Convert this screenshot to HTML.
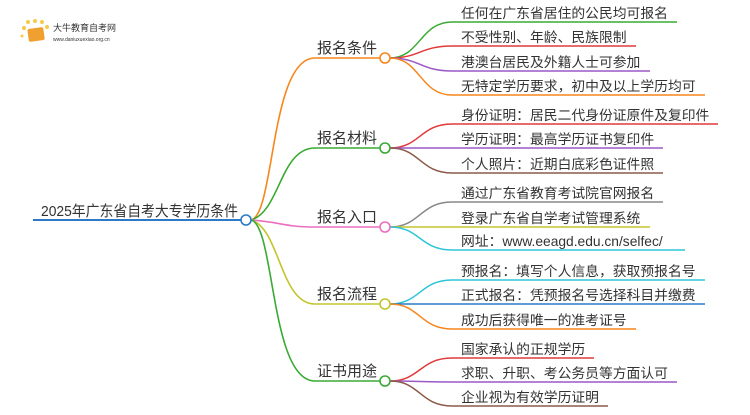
<!DOCTYPE html>
<html><head><meta charset="utf-8"><style>
body{margin:0;background:#fff;}
svg text{font-family:"Liberation Sans","Noto Sans CJK SC",sans-serif;fill:#333;}
</style></head><body>
<svg width="750" height="410" viewBox="0 0 750 410" xmlns="http://www.w3.org/2000/svg">
<g>
<circle cx="24" cy="28" r="2" fill="#f7c948"/><circle cx="28" cy="22" r="2" fill="#f7c948"/><circle cx="35" cy="21" r="2" fill="#f7c948"/><circle cx="42" cy="22" r="2" fill="#f7c948"/><circle cx="47" cy="27" r="2" fill="#f7c948"/><circle cx="22" cy="36" r="1.5" fill="#f7c948"/>
<rect x="28" y="28" width="16" height="13" rx="2" fill="#f0a030" transform="rotate(-8 36 34)"/>
<text x="53" y="31" font-size="9" fill="#333">大牛教育自考网</text>
<text x="53" y="41" font-size="5" fill="#777">www.daniuxuexiao.org.cn</text>
</g>
<line x1="33" y1="220" x2="241" y2="220" stroke="#2a7bc4" stroke-width="2"/>
<text x="41" y="216" font-size="15" textLength="197" lengthAdjust="spacingAndGlyphs">2025年广东省自考大专学历条件</text>
<g fill="none" stroke-width="1.6">
<path d="M251,220 C275,215 270,58 315,58 L380,58" stroke="#f7861c"/>
<path d="M251,220 C280,212 280,148 315,148 L380,148" stroke="#3aaa35"/>
<path d="M251,220 C280,222 285,227 315,227 L380,227" stroke="#ec6fbf"/>
<path d="M251,220 C280,228 280,304 315,304 L380,304" stroke="#c3c52e"/>
<path d="M251,220 C275,225 270,381 315,381 L380,381" stroke="#3aaa35"/>
</g>
<circle cx="246" cy="220" r="5" fill="#fff" stroke="#2a7bc4" stroke-width="1.6"/>
<g font-size="15">
<text x="377" y="53" text-anchor="end">报名条件</text>
<text x="377" y="143" text-anchor="end">报名材料</text>
<text x="377" y="222" text-anchor="end">报名入口</text>
<text x="377" y="299" text-anchor="end">报名流程</text>
<text x="377" y="376" text-anchor="end">证书用途</text>
</g>
<g fill="none" stroke-width="1.5">
<path d="M390,58 C420,58 420,22 452,22 L677,22" stroke="#3aaa35"/>
<path d="M390,58 C420,58 420,46 452,46 L636,46" stroke="#e03a3a"/>
<path d="M390,58 C420,58 420,71 452,71 L650,71" stroke="#9b59c6"/>
<path d="M390,58 C420,58 420,95 452,95 L705,95" stroke="#f7861c"/>
<path d="M390,148 C420,148 420,124 452,124 L718,124" stroke="#e03a3a"/>
<path d="M390,148 C420,148 420,148 452,148 L663,148" stroke="#9b59c6"/>
<path d="M390,148 C420,148 420,173 452,173 L663,173" stroke="#8b5a4a"/>
<path d="M390,227 C420,227 420,202 452,202 L663,202" stroke="#888"/>
<path d="M390,227 C420,227 420,227 452,227 L650,227" stroke="#c3c52e"/>
<path d="M390,227 C420,227 420,250 452,250 L685,250" stroke="#2ec5d8"/>
<path d="M390,304 C420,304 420,280 452,280 L705,280" stroke="#2ec5d8"/>
<path d="M390,304 C420,304 420,304 452,304 L705,304" stroke="#2a7bc4"/>
<path d="M390,304 C420,304 420,329 452,329 L636,329" stroke="#f7861c"/>
<path d="M390,381 C420,381 420,358 452,358 L594,358" stroke="#e03a3a"/>
<path d="M390,381 C420,381 420,382 452,382 L677,382" stroke="#9b59c6"/>
<path d="M390,381 C420,381 420,406 452,406 L608,406" stroke="#8b5a4a"/>
</g>
<g fill="#fff" stroke-width="1.6">
<circle cx="385" cy="58" r="5" stroke="#f7861c"/>
<circle cx="385" cy="148" r="5" stroke="#3aaa35"/>
<circle cx="385" cy="227" r="5" stroke="#ec6fbf"/>
<circle cx="385" cy="304" r="5" stroke="#c3c52e"/>
<circle cx="385" cy="381" r="5" stroke="#3aaa35"/>
</g>
<g font-size="13.8">
<text x="461" y="18">任何在广东省居住的公民均可报名</text>
<text x="461" y="42">不受性别、年龄、民族限制</text>
<text x="461" y="67">港澳台居民及外籍人士可参加</text>
<text x="461" y="91">无特定学历要求，初中及以上学历均可</text>
<text x="461" y="120">身份证明：居民二代身份证原件及复印件</text>
<text x="461" y="144">学历证明：最高学历证书复印件</text>
<text x="461" y="169">个人照片：近期白底彩色证件照</text>
<text x="461" y="198">通过广东省教育考试院官网报名</text>
<text x="461" y="223">登录广东省自学考试管理系统</text>
<text x="461" y="246">网址：www.eeagd.edu.cn/selfec/</text>
<text x="461" y="276">预报名：填写个人信息，获取预报名号</text>
<text x="461" y="300">正式报名：凭预报名号选择科目并缴费</text>
<text x="461" y="325">成功后获得唯一的准考证号</text>
<text x="461" y="354">国家承认的正规学历</text>
<text x="461" y="378">求职、升职、考公务员等方面认可</text>
<text x="461" y="402">企业视为有效学历证明</text>
</g>
</svg>
</body></html>
